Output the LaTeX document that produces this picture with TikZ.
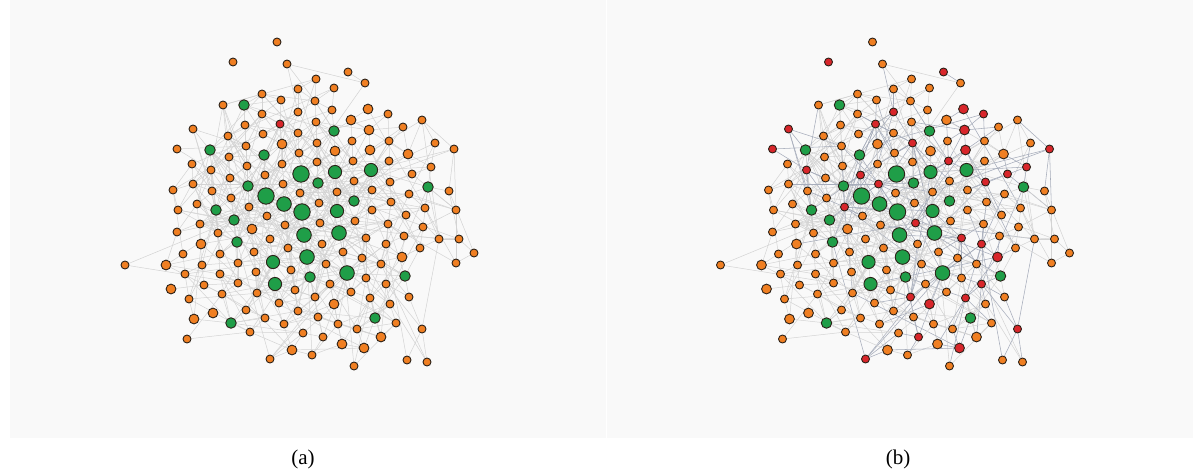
\documentclass[tikz,border=0pt]{standalone}
\usepackage{fontspec}
\setmainfont{Liberation Serif}
\definecolor{nodeorange}{HTML}{F07F22}
\definecolor{nodegreen}{HTML}{1F9E48}
\definecolor{nodered}{HTML}{D8262B}
\definecolor{nodeline}{HTML}{2B2118}
\definecolor{panelbg}{HTML}{F9F9F9}
\definecolor{edgelight}{HTML}{D3D3D3}
\definecolor{edgedark}{HTML}{A7ADBB}
\pgfdeclarelayer{bgl}
\pgfdeclarelayer{edges}
\pgfsetlayers{bgl,edges,main}
\tikzset{
  netnode/.style={circle, draw=nodeline, line width=0.9pt, inner sep=0pt},
  ty-o/.style={minimum size=8pt, fill=nodeorange},
  ty-l/.style={minimum size=9.8pt, fill=nodeorange},
  ty-r/.style={minimum size=8pt, fill=nodered},
  ty-g/.style={minimum size=10.5pt, fill=nodegreen},
  ty-m/.style={minimum size=13.2pt, fill=nodegreen},
  ty-k/.style={minimum size=14.6pt, fill=nodegreen},
  ty-h/.style={minimum size=16.4pt, fill=nodegreen},
  b0/.style={},
  b1/.style={fill=nodered},
  edgea/.style={draw=edgelight, line width=0.5pt},
  edgebd/.style={draw=edgedark, line width=0.55pt},
  panel/.style={fill=panelbg, draw=none},
  caption/.style={font=\fontsize{21}{24}\selectfont, inner sep=0pt}
}
\expandafter\def\csname isgo\endcsname{0}
\expandafter\def\csname isgl\endcsname{0}
\expandafter\def\csname isgr\endcsname{0}
\expandafter\def\csname isgg\endcsname{1}
\expandafter\def\csname isgm\endcsname{1}
\expandafter\def\csname isgk\endcsname{1}
\expandafter\def\csname isgh\endcsname{1}
\def\nodelist{277/42/o/0, 233/62/o/1, 287/64/o/0, 348/72/o/1, 316/79/o/0, 365/83/o/0, 262/94/o/0, 298/89/o/0, 334/88/o/0, 281/100/o/0,
315/101/o/0, 223/105/o/0, 244/105/g/0, 262/114/o/0, 298/112/o/1, 332/110/o/0, 368/109/l/1, 388/114/o/1, 280/124/r/1, 193/129/o/1,
245/125/o/0, 316/122/o/0, 351/120/l/0, 422/120/o/0, 228/136/o/0, 263/134/o/0, 298/133/o/0, 334/131/g/0, 369/130/l/1, 403/127/o/0,
282/144/l/0, 177/149/o/1, 210/150/g/0, 246/146/o/0, 317/143/o/1, 352/141/o/0, 389/141/o/0, 435/143/o/0, 454/149/o/1, 264/155/g/0,
299/153/o/0, 335/151/l/0, 370/150/l/1, 408/154/l/0, 192/164/o/0, 229/157/o/0, 282/164/o/0, 317/162/o/0, 353/161/o/1, 389/161/o/0,
431/167/o/1, 211/170/o/1, 247/166/o/0, 265/175/o/1, 301/174/h/0, 335/172/m/0, 371/170/m/0, 412/174/o/1, 230/178/o/0, 193/184/o/0,
248/186/g/0, 283/184/o/1, 318/183/g/0, 354/181/o/0, 390/182/o/1, 428/187/g/0, 173/190/o/0, 212/191/o/0, 231/198/o/0, 266/196/h/0,
300/193/o/0, 337/192/o/0, 372/190/o/0, 409/194/o/0, 449/191/o/0, 197/204/o/0, 284/204/k/0, 319/203/o/0, 354/201/g/0, 391/202/o/0,
178/210/o/0, 216/210/g/0, 249/207/o/1, 302/212/h/0, 337/211/m/0, 372/210/o/0, 406/215/o/0, 425/208/o/0, 456/210/o/0, 234/220/g/0,
267/216/o/0, 200/224/o/0, 320/223/o/1, 355/221/o/0, 388/224/o/0, 423/227/o/0, 177/232/o/0, 218/233/o/0, 252/229/l/0, 285/225/o/0,
304/235/k/0, 339/233/k/0, 366/238/o/1, 404/236/o/0, 439/239/o/0, 459/239/o/0, 237/242/g/0, 270/239/o/0, 201/244/l/0, 322/244/o/0,
386/244/o/1, 183/254/o/0, 220/254/o/0, 254/252/o/0, 288/248/o/0, 343/252/o/0, 420/248/o/0, 307/257/k/0, 362/258/o/0, 402/257/l/1,
474/253/o/0, 125/265/o/0, 166/265/l/0, 202/265/o/0, 238/263/o/0, 273/262/m/0, 326/264/o/0, 381/264/o/0, 456/263/o/0, 185/274/o/0,
220/274/o/0, 256/272/o/0, 291/270/o/0, 347/273/k/0, 310/277/g/0, 366/278/o/0, 405/276/g/0, 171/289/l/0, 204/285/o/0, 238/283/o/0,
275/284/m/0, 330/284/o/0, 386/284/o/1, 295/290/o/0, 351/292/o/0, 257/293/o/0, 189/299/o/0, 222/294/o/0, 315/297/o/1, 370/298/o/1,
409/297/o/0, 279/303/o/0, 334/304/l/1, 390/304/o/0, 213/313/l/0, 246/310/o/0, 298/311/o/0, 194/319/l/0, 231/323/g/0, 265/318/o/0,
318/317/o/0, 375/318/g/0, 284/324/o/0, 338/324/o/0, 396/323/o/0, 357/329/o/0, 422/329/o/1, 250/332/o/0, 303/333/o/0, 187/339/o/0,
323/337/o/1, 381/337/l/0, 342/344/l/0, 364/348/l/1, 292/350/l/0, 312/355/o/0, 270/359/o/1, 407/360/o/0, 427/362/o/0, 354/366/o/0}
\begin{document}
\begin{tikzpicture}[x=1pt, y=-1pt]
  \useasboundingbox (0,0) rectangle (1193,472);
  \begin{pgfonlayer}{bgl}
    \fill[white] (0,0) rectangle (1193,472);
    \path[panel] (10,0) rectangle (606,438);
    \path[panel] (607,0) rectangle (1193,438);
  \end{pgfonlayer}
  % nodes
  \foreach \x/\y/\t/\b [count=\i] in \nodelist {
    \expandafter\xdef\csname px\i\endcsname{\x}
    \expandafter\xdef\csname py\i\endcsname{\y}
    \expandafter\xdef\csname pb\i\endcsname{\b}
    \expandafter\xdef\csname pg\i\endcsname{\csname isg\t\endcsname}
    \node[netnode, ty-\t] (a\i) at (\x,\y) {};
    \node[netnode, ty-\t, b\b] (b\i) at (\x+595.5,\y) {};
  }
  % edges
  \begin{pgfonlayer}{edges}
  \foreach \i in {1,...,179} {
    \pgfmathtruncatemacro\ipp{\i+1}
    \foreach \j in {\ipp,...,180} {
      \edef\dx{\the\numexpr\csname px\i\endcsname-\csname px\j\endcsname\relax}
      \edef\dy{\the\numexpr\csname py\i\endcsname-\csname py\j\endcsname\relax}
      \edef\dd{\the\numexpr\dx*\dx+\dy*\dy\relax}
      \edef\hh{\the\numexpr\i*\i*31+\j*\j*17+\i*\j*13+\i*7+\j*3\relax}
      \edef\hh{\the\numexpr\hh-((\hh-48)/97)*97\relax}
      \edef\gg{\the\numexpr\csname pg\i\endcsname+\csname pg\j\endcsname\relax}
      \ifnum\gg>0 \def\ta{62}\def\tb{24}\def\tc{5}\else\def\ta{42}\def\tb{10}\def\tc{2}\fi
      \def\ok{0}
      \ifnum\dd<1225
        \ifnum\hh<\ta\relax \def\ok{1}\fi
      \else
        \ifnum\dd<4900
          \ifnum\hh<\tb\relax \def\ok{1}\fi
        \else
          \ifnum\dd<16900
            \ifnum\hh<\tc\relax \def\ok{1}\fi
          \fi
        \fi
      \fi
      \ifnum\ok=1
        \draw[edgea] (a\i) -- (a\j);
        \ifnum\numexpr\csname pb\i\endcsname+\csname pb\j\endcsname\relax>0
          \draw[edgebd] (b\i) -- (b\j);
        \else
          \draw[edgea] (b\i) -- (b\j);
        \fi
      \fi
    }
  }
  \end{pgfonlayer}
  \node[caption] (la) at (303,459) {(a)};
  \node[caption] (lb) at (898,459) {(b)};
\end{tikzpicture}
\end{document}
